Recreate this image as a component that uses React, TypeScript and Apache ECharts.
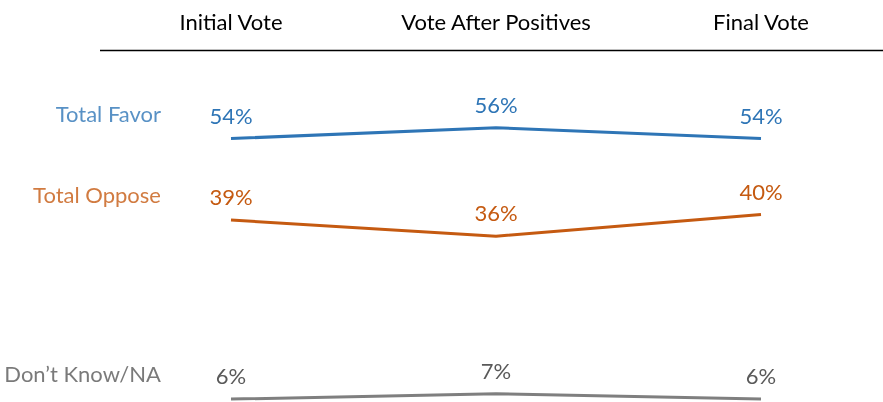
import React, { useEffect, useRef } from "react";
import * as echarts from "echarts";

const categories = ["Initial Vote", "Vote After Positives", "Final Vote"];
const seriesNames = ["Total Favor", "Total Oppose", "Don\u2019t Know/NA"];
const favor = [54, 56, 54];
const oppose = [39, 36, 40];
const dontKnow = [6, 7, 6];
const lineColors = ["#2E75B6", "#C55A11", "#7F7F7F"];
const textColors = ["#2E75B6", "#C55A11", "#595959"];

const FONT = "Lato";
const FS = 22;

export default function App() {
  const ref = useRef<HTMLDivElement>(null);
  useEffect(() => {
    if (!ref.current) return;
    const chart = echarts.init(ref.current, undefined, { renderer: "svg" });
    const values = [favor, oppose, dontKnow];
    const lineSeries = values.map((vals, i) => ({
      type: "line",
      name: seriesNames[i],
      data: vals,
      symbol: "circle",
      symbolSize: 1,
      showSymbol: true,
      clip: false,
      itemStyle: { color: "transparent" },
      lineStyle: { color: lineColors[i], width: 3 },
      label: {
        show: true,
        position: "top",
        distance: 12,
        formatter: (p: any) => p.value + "%",
        color: textColors[i],
        fontFamily: FONT,
        fontSize: FS,
      },
    }));
    const nameSeries = values.map((vals, i) => ({
      type: "scatter",
      name: seriesNames[i] + " label",
      data: [[0, vals[0]]],
      symbolSize: 1,
      clip: false,
      itemStyle: { color: "transparent" },
      label: {
        show: true,
        position: "top",
        distance: 12,
        align: "right",
        offset: [-70, -2],
        formatter: () => seriesNames[i],
        color: textColors[i],
        fontFamily: FONT,
        fontSize: FS,
      },
    }));
    chart.setOption({
      animation: false,
      grid: { left: 231, right: 122, top: 106, bottom: 2.9, containLabel: false },
      xAxis: {
        type: "category",
        data: categories,
        boundaryGap: false,
        position: "top",
        offset: 55,
        axisLine: { show: false },
        axisTick: { show: false },
        splitLine: { show: false },
        axisLabel: {
          margin: 19,
          color: "#000000",
          fontFamily: FONT,
          fontSize: FS,
        },
      },
      yAxis: {
        type: "value",
        min: 6,
        max: 60,
        show: false,
        splitLine: { show: false },
      },
      graphic: [
        {
          type: "line",
          shape: { x1: 100, y1: 50.5, x2: 883, y2: 50.5 },
          style: { stroke: "#000000", lineWidth: 1.3 },
          silent: true,
        },
      ],
      series: [...lineSeries, ...nameSeries],
    });
    return () => chart.dispose();
  }, []);
  return (
    <div
      ref={ref}
      style={{ position: "fixed", left: 0, top: 0, width: 883, height: 402 }}
    />
  );
}
